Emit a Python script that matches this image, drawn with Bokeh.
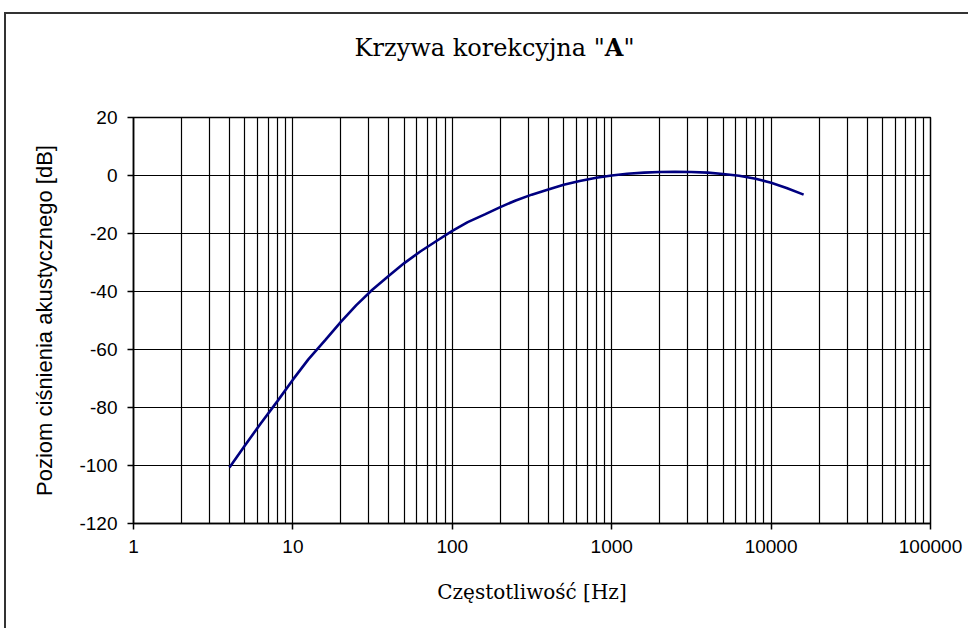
from bokeh.plotting import figure
from bokeh.models import FixedTicker, Range1d, Div
from bokeh.layouts import column
from bokeh.embed import file_html
from bokeh.resources import INLINE

# --- data (A-weighting correction curve) ---
freq_hz = [4, 5, 6.3, 8, 10, 12.5, 16, 20, 25, 31.5, 40, 50, 63, 80, 100, 125, 160,
           200, 250, 315, 400, 500, 630, 800, 1000, 1250, 1600, 2000, 2500, 3150,
           4000, 5000, 6300, 8000, 10000, 12500, 16000]
level_db = [-100.7, -93.1, -85.4, -77.8, -70.4, -63.4, -56.7, -50.5, -44.7, -39.4,
            -34.6, -30.2, -26.2, -22.5, -19.1, -16.1, -13.4, -10.9, -8.6, -6.6,
            -4.8, -3.2, -1.9, -0.8, 0.0, 0.6, 1.0, 1.2, 1.3, 1.2, 1.0, 0.5, -0.1,
            -1.1, -2.5, -4.3, -6.6]
x_major = [1, 10, 100, 1000, 10000, 100000]
x_labels = ["1", "10", "100", "1000", "10000", "100000"]
y_ticks = [-120, -100, -80, -60, -40, -20, 0, 20]
y_labels = ["-120", "-100", "-80", "-60", "-40", "-20", "0", "20"]

title_html = 'Krzywa korekcyjna "<b>A</b>"'
x_title = "Częstotliwość [Hz]"
y_title = "Poziom ciśnienia akustycznego [dB]"

W = 968
TITLE_H = 80
H = 628 - TITLE_H

title = Div(
    text=('<div style="box-sizing:border-box;width:%dpx;padding-left:21px;'
          'padding-top:34px;text-align:center;font-family:\'DejaVu Serif\';'
          'font-size:24px;line-height:28px;color:black;">%s</div>') % (W, title_html),
    width=W, height=TITLE_H, margin=0)

p = figure(width=W, height=H, x_axis_type="log", output_backend="svg",
           toolbar_location=None, margin=0,
           x_range=Range1d(x_major[0], x_major[-1]),
           y_range=Range1d(y_ticks[0], y_ticks[-1]),
           min_border_left=133, min_border_right=W - 930,
           min_border_top=117 - TITLE_H, min_border_bottom=H - (523 - TITLE_H))

minor = []
for d in x_major[:-1]:
    for k in range(2, 10):
        minor.append(d * k)
p.xaxis.ticker = FixedTicker(ticks=x_major, minor_ticks=minor)
p.xaxis.major_label_overrides = {v: s for v, s in zip(x_major, x_labels)}
p.yaxis.ticker = FixedTicker(ticks=y_ticks)
p.yaxis.major_label_overrides = {v: s for v, s in zip(y_ticks, y_labels)}

for ax in (p.xaxis[0], p.yaxis[0]):
    ax.axis_line_color = "black"
    ax.axis_line_width = 1.5
    ax.major_tick_line_color = "black"
    ax.major_tick_line_width = 1.5
    ax.major_tick_out = 6
    ax.major_tick_in = 0
    ax.minor_tick_line_color = None
    ax.major_label_text_font = "Liberation Sans"
    ax.major_label_text_font_size = "19px"
    ax.major_label_text_color = "black"
    ax.axis_label_text_color = "black"
    ax.axis_label_text_font_style = "normal"

p.xaxis.major_label_standoff = 10
p.yaxis.major_label_standoff = 10
p.xaxis.axis_label = x_title
p.xaxis.axis_label_text_font = "DejaVu Serif"
p.xaxis.axis_label_text_font_size = "20px"
p.xaxis.axis_label_standoff = 24
p.yaxis.axis_label = y_title
p.yaxis.axis_label_text_font = "Liberation Sans"
p.yaxis.axis_label_text_font_size = "22px"
p.yaxis.axis_label_standoff = 19

p.xgrid.grid_line_color = "black"
p.xgrid.grid_line_width = 1.2
p.xgrid.minor_grid_line_color = "black"
p.xgrid.minor_grid_line_width = 1.2
p.ygrid.grid_line_color = "black"
p.ygrid.grid_line_width = 1.2
p.outline_line_color = "black"
p.outline_line_width = 1.5
p.background_fill_color = "white"
p.border_fill_color = None

p.line(freq_hz, level_db, line_color="#000080", line_width=2.6)

layout = column(title, p, spacing=0, margin=0)
layout.styles = {
    "background": ("linear-gradient(#333,#333) 4px 12px / 2px 100% no-repeat, "
                   "linear-gradient(#333,#333) 4px 12px / 100% 2px no-repeat, white"),
}

open("out.html", "w").write(file_html(layout, INLINE))
